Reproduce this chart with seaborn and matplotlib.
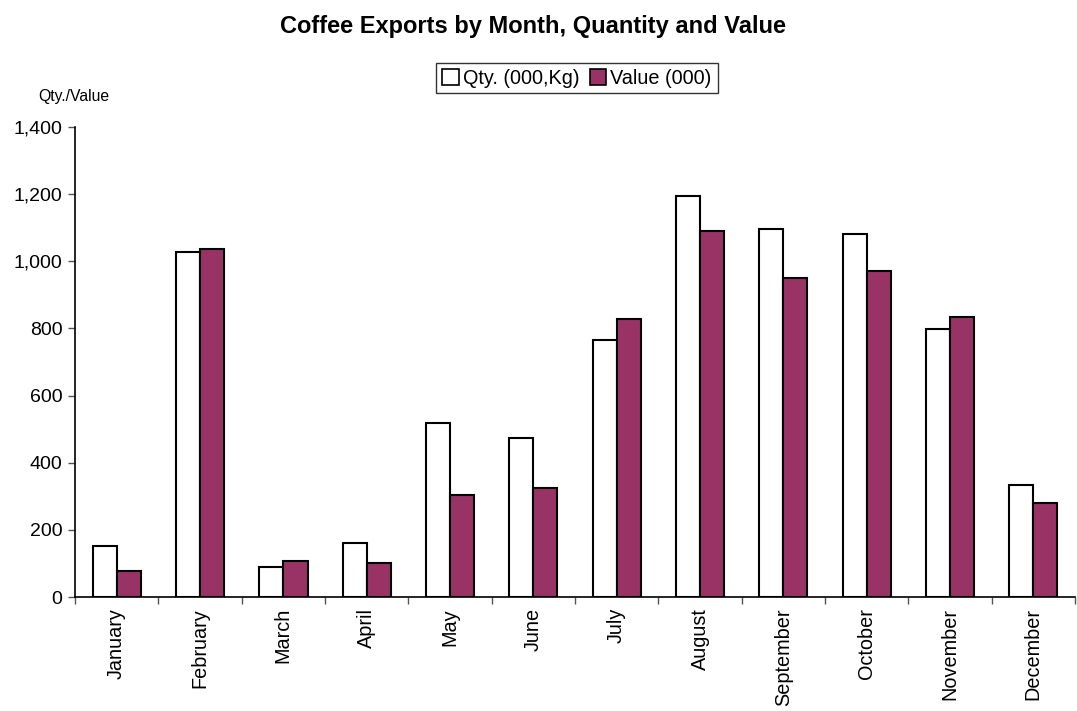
import matplotlib
matplotlib.use("Agg")
import matplotlib.pyplot as plt
import seaborn as sns
import pandas as pd
import numpy as np
from matplotlib.ticker import FuncFormatter, FixedLocator
from matplotlib.patches import Patch

months = ["January", "February", "March", "April", "May", "June", "July",
          "August", "September", "October", "November", "December"]
qty = [152, 1028, 89, 161, 518, 474, 766, 1195, 1096, 1081, 798, 334]
value = [77, 1037, 107, 101, 304, 325, 828, 1090, 950, 971, 834, 280]
series_names = ["Qty. (000,Kg)", "Value (000)"]

df = pd.DataFrame({
    "Month": months * 2,
    "Series": [series_names[0]] * len(months) + [series_names[1]] * len(months),
    "Amount": qty + value,
})

sns.set_style("white")
plt.rcParams["font.family"] = ["Liberation Sans", "DejaVu Sans"]
plt.rcParams["text.color"] = "black"
plt.rcParams["xtick.labelcolor"] = "black"
plt.rcParams["ytick.labelcolor"] = "black"

fig = plt.figure(figsize=(10.77, 7.11), dpi=100)
ax = fig.add_axes([75 / 1077, 1 - 597 / 711, 1000 / 1077, 470 / 711])

palette = {series_names[0]: "#FFFFFF", series_names[1]: "#993366"}
sns.barplot(data=df, x="Month", y="Amount", hue="Series", order=months,
            hue_order=series_names, palette=palette, width=0.58,
            edgecolor="black", linewidth=1.5, saturation=1, ax=ax, legend=False)

ax.set_xlim(-0.5, len(months) - 0.5)
ax.set_ylim(0, 1400)
ax.set_yticks(np.arange(0, 1401, 200))
ax.yaxis.set_major_formatter(FuncFormatter(lambda v, p: f"{int(v):,}"))
ax.tick_params(axis="y", which="major", left=True, length=5, width=1,
               labelsize=14, color="#555555", labelcolor="black", pad=4)

ax.set_xticks(range(len(months)))
ax.set_xticklabels(months, rotation=90, fontsize=14.3, color="black")
ax.tick_params(axis="x", which="major", length=0, pad=8)
ax.xaxis.set_minor_locator(FixedLocator(np.arange(-0.5, len(months), 1.0)))
ax.tick_params(axis="x", which="minor", bottom=True, length=5, width=1,
               color="#555555")

for s in ["top", "right"]:
    ax.spines[s].set_visible(False)
for s in ["left", "bottom"]:
    ax.spines[s].set_color("black")
    ax.spines[s].set_linewidth(1.2)

ax.set_xlabel("")
ax.set_ylabel("")
fig.text(38 / 1077, 1 - 97 / 711, "Qty./Value", fontsize=11.3, va="center", ha="left")
fig.text(533 / 1077, 1 - 27 / 711, "Coffee Exports by Month, Quantity and Value",
         fontsize=17, fontweight="bold", ha="center", va="center")

handles = [Patch(facecolor=palette[n], edgecolor="black", linewidth=1.2) for n in series_names]
leg = fig.legend(handles, series_names, loc="center", bbox_to_anchor=(577 / 1077, 1 - 78 / 711),
                 ncol=2, frameon=True, fancybox=False, fontsize=14.3,
                 handlelength=0.85, handleheight=0.85, handletextpad=0.2,
                 columnspacing=0.5, borderpad=0.3, borderaxespad=0)
leg.get_frame().set_edgecolor("black")
leg.get_frame().set_linewidth(1.0)

fig.savefig("out.png", dpi=100)
